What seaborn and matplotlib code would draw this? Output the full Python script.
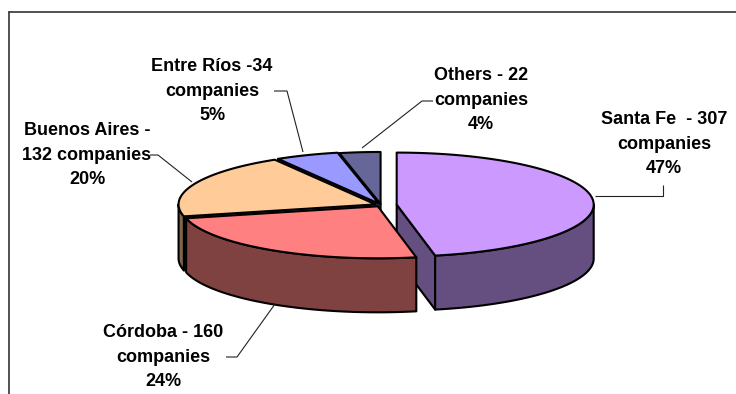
import numpy as np
import matplotlib
matplotlib.use("Agg")
import matplotlib.pyplot as plt
import seaborn as sns
from matplotlib.patches import Polygon

# Companies by province, listed clockwise from 12 o'clock
regions = ["Santa Fe", "Córdoba", "Buenos Aires", "Entre Ríos", "Others"]
companies = [307, 160, 132, 34, 22]
shares = [47, 24, 20, 5, 4]
label_formats = [
    "{r}  - {n}\ncompanies",
    "{r} - {n}\ncompanies",
    "{r} -\n{n} companies",
    "{r} -{n}\ncompanies",
    "{r} - {n}\ncompanies",
]
top_colors = ["#CC99FF", "#FF8080", "#FFCC99", "#9999FF", "#666699"]
side_colors = ["#654E80", "#804141", "#80664D", "#4D4D80", "#333350"]

# 3-D pie geometry (pixel space)
CX, CY = 381.0, 205.0
RX, RY = 197.0, 52.0
DEPTH = 54.0
explode = [0.08, 0.03, 0.03, 0.03, 0.02]

# Label anchors and leader-line paths
label_pos = [(664, 144), (163, 357), (87, 155), (212, 91), (481, 100)]
leaders = [
    [(663, 185), (663, 196), (595, 196)],
    [(226, 357), (237, 357), (275, 304)],
    [(150, 155), (158, 155), (192, 182)],
    [(274, 91), (287, 91), (303, 152)],
    [(433, 101), (422, 101), (362, 148)],
]

sns.set_theme(style="white")
plt.rcParams["font.family"] = ["Liberation Sans", "DejaVu Sans"]

fig = plt.figure(figsize=(7.36, 3.94), dpi=100)
ax = fig.add_axes([0, 0, 1, 1])
ax.set_xlim(0, 736)
ax.set_ylim(394, 0)
ax.axis("off")

total = float(sum(companies))
fracs = np.array(companies) / total
bounds = np.concatenate([[0.0], np.cumsum(fracs) * 360.0])


def proj(theta_deg, r, cx, cy, drop=0.0):
    t = np.radians(theta_deg)
    return cx + RX * r * np.sin(t), cy - RY * r * np.cos(t) + drop


def arc(a, b, cx, cy, drop=0.0, n=120):
    th = np.linspace(a, b, n)
    x, y = proj(th, 1.0, cx, cy, drop)
    return np.column_stack([x, y])


EDGE = dict(edgecolor="black", linewidth=1.5, joinstyle="round")

slices = []
for i in range(len(companies)):
    a, b = bounds[i], bounds[i + 1]
    mid = np.radians((a + b) / 2)
    cx = CX + explode[i] * RX * np.sin(mid)
    cy = CY - explode[i] * RY * np.cos(mid)
    slices.append((a, b, cx, cy))

# radial cut faces that turn toward the viewer
for i, (a, b, cx, cy) in enumerate(slices):
    for ang, sign in ((a, -1), (b, 1)):
        facing = sign * np.sin(np.radians(ang))
        if facing > 1e-6:
            ox, oy = proj(ang, 1.0, cx, cy)
            pts = [(cx, cy), (ox, oy), (ox, oy + DEPTH), (cx, cy + DEPTH)]
            ax.add_patch(Polygon(pts, closed=True, facecolor=side_colors[i], **EDGE))

# outer walls (front half of the cylinder), back to front
walls = []
for i, (a, b, cx, cy) in enumerate(slices):
    lo, hi = max(a, 90.0), min(b, 270.0)
    if hi > lo:
        top = arc(lo, hi, cx, cy)
        bot = arc(lo, hi, cx, cy, DEPTH)[::-1]
        depth_key = np.max(top[:, 1])
        walls.append((depth_key, i, np.vstack([top, bot])))
for _, i, pts in sorted(walls, key=lambda w: w[0]):
    ax.add_patch(Polygon(pts, closed=True, facecolor=side_colors[i], **EDGE))

# top faces
for i, (a, b, cx, cy) in enumerate(slices):
    pts = np.vstack([[cx, cy], arc(a, b, cx, cy)])
    ax.add_patch(Polygon(pts, closed=True, facecolor=top_colors[i], **EDGE))

# leader lines and labels
for i in range(len(companies)):
    xs, ys = zip(*leaders[i])
    ax.plot(xs, ys, color="#222222", lw=0.8, solid_capstyle="butt")
    txt = label_formats[i].format(r=regions[i], n=companies[i]) + f"\n{shares[i]}%"
    ax.text(label_pos[i][0], label_pos[i][1], txt, ha="center", va="center",
            multialignment="center", fontsize=13, fontweight="bold",
            linespacing=1.55, color="black")

# chart frame (top and left edges in view)
ax.plot([9, 736], [12, 12], color="#333333", lw=1.2)
ax.plot([9, 9], [12, 394], color="#333333", lw=1.2)

fig.savefig("out.png", dpi=100)
